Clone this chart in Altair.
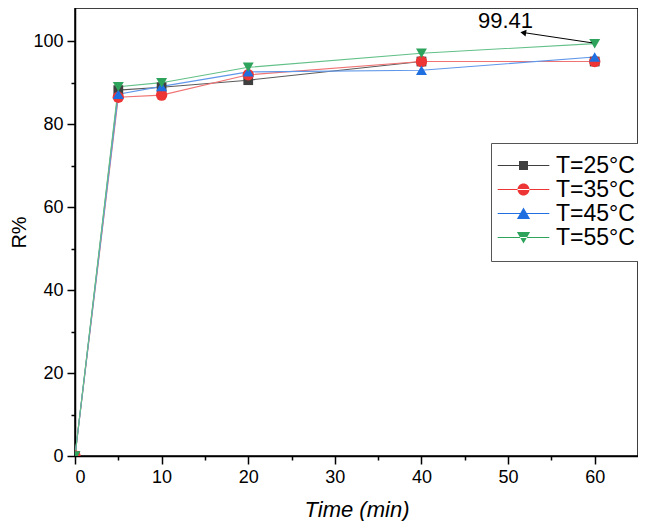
import altair as alt
import pandas as pd

time_min = [0, 5, 10, 20, 40, 60]
series_names = ["T=25°C", "T=35°C", "T=45°C", "T=55°C"]
r_25 = [0, 88.2, 88.9, 90.6, 95.1, 95.1]
r_35 = [0, 86.5, 87.0, 91.9, 95.1, 95.1]
r_45 = [0, 87.2, 89.1, 92.6, 93.0, 96.2]
r_55 = [0, 89.0, 90.0, 93.7, 97.1, 99.41]
marker_colors = ["#3f3f3f", "#ee3535", "#1f6fe0", "#2ea35c"]
line_colors = ["#5a5a5a", "#f07272", "#5f97ea", "#62c088"]
marker_shapes = ["square", "circle", "triangle-up", "triangle-down"]

x_major = [0, 10, 20, 30, 40, 50, 60]
x_minor = [5, 15, 25, 35, 45, 55]
y_major = [0, 20, 40, 60, 80, 100]
y_minor = [10, 30, 50, 70, 90]

annot_text = "99.41"
annot_text_pos = (49.7, 103.1)
annot_tail = (59.7, 99.6)
annot_tip = (51.7, 102.1)
annot_head = (51.75, 102.05)

rows = []
for name, vals in zip(series_names, [r_25, r_35, r_45, r_55]):
    for t, v in zip(time_min, vals):
        rows.append({"series": name, "time": t, "R": v})
df = pd.DataFrame(rows)

xs = alt.Scale(domain=[0, 65], nice=False, zero=False)
ys = alt.Scale(domain=[0, 108], nice=False, zero=False)
col_scale = alt.Scale(domain=series_names, range=marker_colors)
stroke_scale = alt.Scale(domain=series_names, range=line_colors)

FONT = "Liberation Sans"

x_axis_main = alt.Axis(values=x_major, title="Time (min)", titleFontStyle="italic",
                       titleFontWeight="normal", titleFontSize=22, titlePadding=13,
                       labelFontSize=18, tickSize=8, labelPadding=4, format="d",
                       orient="bottom")
y_axis_main = alt.Axis(values=y_major, title="R%", titleFontWeight="normal",
                       titleFontSize=20, titlePadding=3, labelFontSize=18,
                       tickSize=8, labelPadding=4, format="d", orient="left")
x_axis_minor = alt.Axis(values=x_minor, title=None, labels=False, tickSize=4,
                        domain=False, orient="bottom")
y_axis_minor = alt.Axis(values=y_minor, title=None, labels=False, tickSize=4,
                        domain=False, orient="left")

base = alt.Chart(df)

line_seg = "M-4.3,-0.07H4.3V0.07H-4.3Z"
legend_paths = [
    line_seg + "M-0.75,-0.75H0.75V0.75H-0.75Z",
    line_seg + "M-1,0A1,1 0 1,0 1,0A1,1 0 1,0 -1,0Z",
    line_seg + "M0,-1L1.1,0.9H-1.1Z",
    line_seg + "M0,1L1.1,-0.9H-1.1Z",
]

# legend carrier: points pushed outside the fixed domain (clipped away)
legend_layer = base.transform_calculate(hidden="-1000").mark_point(
    filled=True, size=144, opacity=1, clip=True
).encode(
    x=alt.X("time:Q", scale=xs, axis=None),
    y=alt.Y("hidden:Q", scale=ys, axis=None),
    color=alt.Color("series:N", scale=col_scale, legend=alt.Legend(
        title=None, orient="none", legendX=416, legendY=135,
        labelFontSize=23, labelFont=FONT, labelColor="black",
        symbolSize=144, symbolOffset=10, labelOffset=21,
        padding=11, rowPadding=0, strokeColor="#555555",
        fillColor="white", symbolOpacity=1, symbolStrokeWidth=0,
    )),
    shape=alt.Shape("series:N", scale=alt.Scale(domain=series_names, range=legend_paths)),
)

axes_layer = base.mark_point(opacity=0).encode(
    x=alt.X("time:Q", scale=xs, axis=x_axis_main),
    y=alt.Y("R:Q", scale=ys, axis=y_axis_main),
)
minor_layer = base.mark_point(opacity=0).encode(
    x=alt.X("time:Q", scale=xs, axis=x_axis_minor),
    y=alt.Y("R:Q", scale=ys, axis=y_axis_minor),
)

lines = base.mark_line(strokeWidth=1.1, clip=True).encode(
    x=alt.X("time:Q", scale=xs, axis=None),
    y=alt.Y("R:Q", scale=ys, axis=None),
    stroke=alt.Stroke("series:N", scale=stroke_scale, legend=None),
    detail="series:N",
)

point_layers = []
for name, shp in zip(series_names, marker_shapes):
    sz = 95 if shp == "square" else (130 if shp == "circle" else 120)
    point_layers.append(
        base.transform_filter(alt.datum.series == name).mark_point(
            shape=shp, filled=True, size=sz, opacity=1, clip=True
        ).encode(
            x=alt.X("time:Q", scale=xs, axis=None),
            y=alt.Y("R:Q", scale=ys, axis=None),
            fill=alt.Fill("series:N", scale=col_scale, legend=None),
        )
    )

ann_df = pd.DataFrame({
    "x": [annot_tail[0]], "y": [annot_tail[1]],
    "x2": [annot_tip[0]], "y2": [annot_tip[1]],
    "hx": [annot_head[0]], "hy": [annot_head[1]],
    "tx": [annot_text_pos[0]], "ty": [annot_text_pos[1]], "label": [annot_text],
})
ann = alt.Chart(ann_df)
arrow_line = ann.mark_rule(color="black", strokeWidth=1).encode(
    x=alt.X("x:Q", scale=xs, axis=None), y=alt.Y("y:Q", scale=ys, axis=None),
    x2="x2:Q", y2="y2:Q",
)
arrow_head = ann.mark_point(shape="triangle-up", filled=True, color="black",
                            size=45, angle=279, opacity=1).encode(
    x=alt.X("hx:Q", scale=xs, axis=None), y=alt.Y("hy:Q", scale=ys, axis=None),
)
arrow_text = ann.mark_text(fontSize=22, font=FONT, color="black",
                           baseline="alphabetic").encode(
    x=alt.X("tx:Q", scale=xs, axis=None), y=alt.Y("ty:Q", scale=ys, axis=None),
    text="label:N",
)

chart = alt.layer(
    legend_layer, axes_layer, minor_layer, lines, *point_layers,
    arrow_line, arrow_head, arrow_text,
).resolve_axis(x="independent", y="independent").properties(
    width=563, height=448,
    autosize=alt.AutoSizeParams(type="none"),
    padding={"left": 67, "top": 0, "right": 0, "bottom": 65},
).configure_view(
    stroke="black", strokeWidth=1.5
).configure_axis(
    domainColor="black", domainWidth=1.5, tickColor="black", tickWidth=1.5,
    labelColor="black", titleColor="black", labelFont=FONT, titleFont=FONT, grid=False,
)

chart.save("out.html", embed_options={"renderer": "svg", "actions": False})
